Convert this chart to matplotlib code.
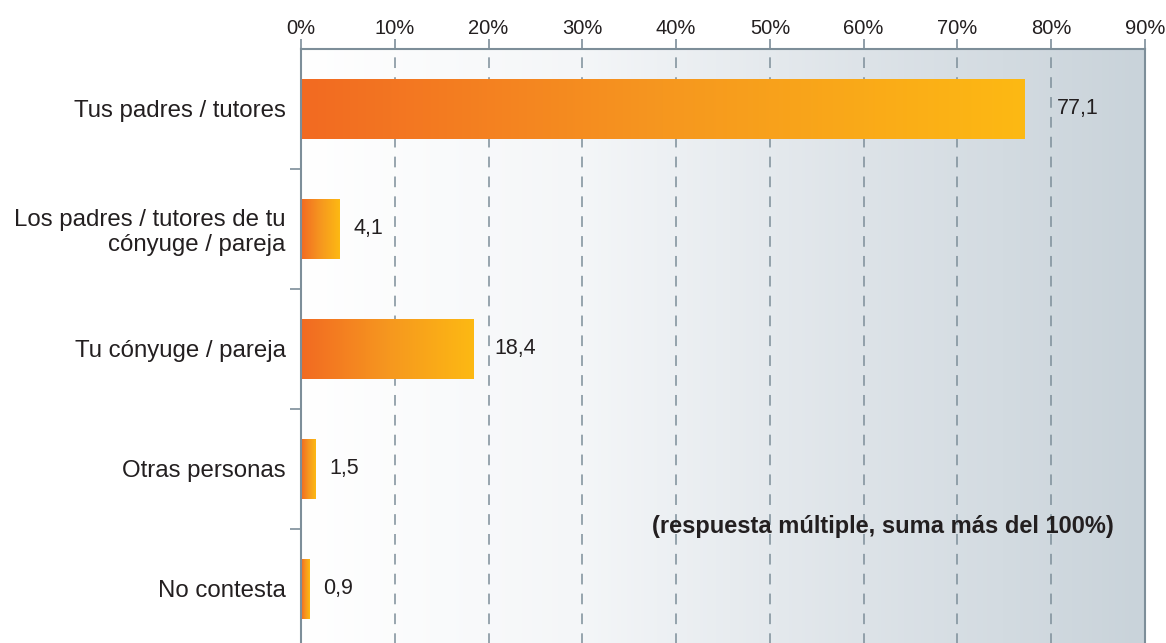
import numpy as np
import matplotlib.pyplot as plt
from matplotlib.colors import LinearSegmentedColormap

# DATA
categories = ["Tus padres / tutores",
              "Los padres / tutores de tu\ncónyuge / pareja",
              "Tu cónyuge / pareja",
              "Otras personas",
              "No contesta"]
values = [77.1, 4.1, 18.4, 1.5, 0.9]
value_labels = ["77,1", "4,1", "18,4", "1,5", "0,9"]
ticks = list(range(0, 100, 10))
tick_labels = [f"{t}%" for t in ticks]
note = "(respuesta múltiple, suma más del 100%)"

plt.rcParams['font.family'] = ['Liberation Sans', 'DejaVu Sans']

W, H = 1166, 643
fig = plt.figure(figsize=(W / 100, H / 100), dpi=100)
# axes runs a little below the figure edge, like the original
ax = fig.add_axes([301 / W, 1 - 649 / H, 844 / W, 600 / H])

xmax = 90
n = len(categories)
ax.set_xlim(0, xmax)
ax.set_ylim(n - 0.5, -0.5)

# background gradient white -> grey blue
bg = LinearSegmentedColormap.from_list("bg", ["#ffffff", "#f4f6f8", "#dde3e8", "#c9d3da"])
grad = np.linspace(0, 1, 256).reshape(1, -1)
ax.imshow(grad, cmap=bg, extent=[0, xmax, n - 0.5, -0.5], aspect="auto", zorder=0)

# grid
for t in ticks[1:-1]:
    ax.axvline(t, color="#7d8e99", lw=1.1, ls=(0, (7, 6)), zorder=1)

# bars with own orange->yellow gradient
bar_cmap = LinearSegmentedColormap.from_list("bar", ["#f26a22", "#f6971f", "#fdb913"])
bh = 0.5
for i, v in enumerate(values):
    ax.imshow(grad, cmap=bar_cmap, extent=[0, v, i + bh / 2, i - bh / 2],
              aspect="auto", zorder=2)

# value labels, moved past a gridline if they would sit on it
px = xmax / 844
for i, v in enumerate(values):
    lab = value_labels[i]
    x = v + 14 * px
    w = len(lab) * 10 * px
    for t in ticks[1:-1]:
        if v < t < x + w:
            x = t + 6 * px
            break
    ax.text(x, i, lab, va="center", ha="left", fontsize=15.5,
            color="#231f20", zorder=3)

ax.text(37.4, 3.48, note, fontsize=17, fontweight="bold",
        color="#231f20", ha="left", va="center", zorder=3)

# axes styling
ax.xaxis.tick_top()
ax.set_xticks(ticks)
ax.set_xticklabels(tick_labels, fontsize=14.5, color="#231f20")
ax.tick_params(axis="x", length=7, width=1.2, color="#7d8e99", pad=1)

ax.set_yticks(range(n))
ax.set_yticklabels(categories, fontsize=17.3, color="#231f20", ha="right",
                   multialignment="right", linespacing=1.12)
ax.set_yticks(np.arange(0.5, n - 0.5, 1), minor=True)
ax.tick_params(axis="y", which="major", length=0, pad=11)
ax.tick_params(axis="y", which="minor", length=8, width=1.2, color="#7d8e99")

for s in ["top", "left", "right"]:
    ax.spines[s].set_color("#7d8e99")
    ax.spines[s].set_linewidth(1.5)
ax.spines["bottom"].set_visible(False)

fig.savefig("out.png", dpi=100)
